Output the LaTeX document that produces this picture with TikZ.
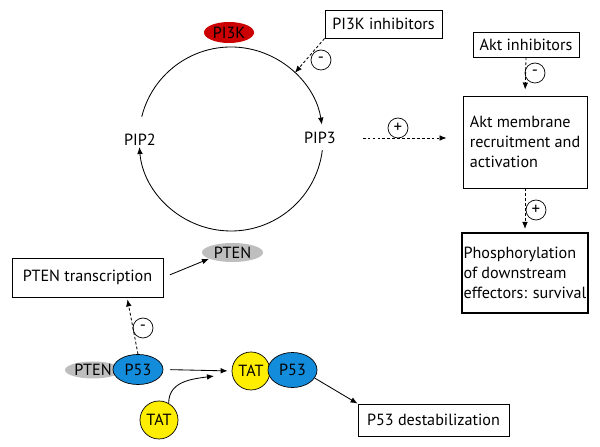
\documentclass[tikz,border=0pt]{standalone}
\usepackage{fontspec}
\setmainfont{PT Sans}
\usetikzlibrary{shapes.geometric,arrows.meta}
\definecolor{pikred}{RGB}{204,0,0}
\definecolor{ptgray}{RGB}{190,190,190}
\definecolor{pblue}{RGB}{20,140,220}
\definecolor{tatyel}{RGB}{255,238,0}

\begin{document}
\begin{tikzpicture}[x=0.25mm, y=-0.25mm,
		font=\fontsize{11.5}{14.2}\selectfont,
		box/.style={draw, line width=0.6pt, inner sep=0pt},
		sign/.style={draw, circle, line width=0.5pt, minimum size=5mm, inner sep=0pt, font=\fontsize{12}{12}\selectfont},
		act/.style={-{Latex[length=5pt,width=4pt]}, line width=0.6pt},
		reg/.style={act, dash pattern=on 2pt off 1.5pt},
		prot/.style={ellipse, inner sep=0pt}]
			\useasboundingbox (0,0) rectangle (600,447);
			% PIP cycle
			\coordinate (CYC) at (231,139);
			\node (PIP2) at (140,140) {PIP2};
			\node (PIP3) at (320,138) {PIP3};
			\node[prot, fill=pikred, minimum width=12.5mm, minimum height=5.25mm] (PI3K) at (229,32.5) {PI3K};
			\draw[act] ([shift={(194:92)}]CYC) arc[start angle=194, end angle=351, radius=92];
			\draw[act] ([shift={(7:92)}]CYC) arc[start angle=7, end angle=175, radius=92];
			\coordinate (HIT) at ([shift={(-46:92)}]CYC);
			% inhibitors and Akt
			\node[box, minimum width=29.25mm, minimum height=7mm] (INHPI) at (383.5,24) {PI3K inhibitors};
			\node[box, minimum width=26.5mm, minimum height=6.25mm] (INHAKT) at (526,44.5) {Akt inhibitors};
			\node[box, minimum width=31mm, minimum height=23mm, align=left] (AKT) at (525,142) {Akt membrane\\recruitment and\\activation};
			\node[box, line width=1.4pt, minimum width=31.5mm, minimum height=20mm, align=left] (PHOS) at (525,273) {Phosphorylation\\of downstream\\effectors: survival};
			\draw[reg] (INHPI.south west) -- (HIT);
			\node[sign] (M1) at (321,60) {-};
			\draw[reg, shorten >=1.5mm] (INHAKT.south) -- (AKT.north);
			\node[sign] (M2) at (535,73) {-};
			\draw[reg, shorten <=5.5mm, shorten >=4mm] (PIP3.east) -- (PIP3.east -| AKT.west);
			\node[sign] (P1) at (398,128) {+};
			\draw[reg, shorten >=0.75mm] (AKT.south) -- (PHOS.north);
			\node[sign] (P2) at (536,210) {+};
			% PTEN
			\node[prot, fill=ptgray, minimum width=15.25mm, minimum height=4.75mm] (PTEN) at (232.5,252.5) {PTEN};
			\node[box, minimum width=37.75mm, minimum height=9.75mm] (TRANS) at (87.5,277.5) {PTEN transcription};
			\draw[act, shorten <=1.75mm] (TRANS.east) -- (PTEN.195);
			% P53 complexes
			\node[prot, fill=ptgray, minimum width=14mm, minimum height=4.25mm] (PTENB) at (93,370) {PTEN};
			\node[prot, draw, line width=0.5pt, fill=pblue, minimum width=12.5mm, minimum height=7.5mm] (P53A) at (138,369.5) {P53};
			\draw[reg, shorten >=0.5mm] (P53A.north) -- ([xshift=9.9mm]TRANS.south);
			\node[sign] (M3) at (143,328) {-};
			\node[circle, draw, line width=0.5pt, fill=tatyel, minimum size=9.5mm, inner sep=0pt] (TAT) at (251,371) {TAT};
			\node[prot, draw, line width=0.5pt, fill=pblue, minimum width=12.25mm, minimum height=8.75mm] (P53B) at (292.5,370) {P53};
			\node[circle, draw, line width=0.5pt, fill=tatyel, minimum size=9.5mm, inner sep=0pt] (TATB) at (159,420) {TAT};
			\coordinate (JOIN) at (214,376);
			\draw[act, shorten <=1.75mm, shorten >=1mm] (P53A.east) -- (TAT.west);
			\draw[act] (TATB.60) .. controls +(0,-22) and +(-22,3) .. (JOIN);
			\node[box, minimum width=37.75mm, minimum height=8mm] (DESTAB) at (433.5,420) {P53 destabilization};
			\draw[act] (P53B.-20) -- (DESTAB.north west);
		\end{tikzpicture}
\end{document}
